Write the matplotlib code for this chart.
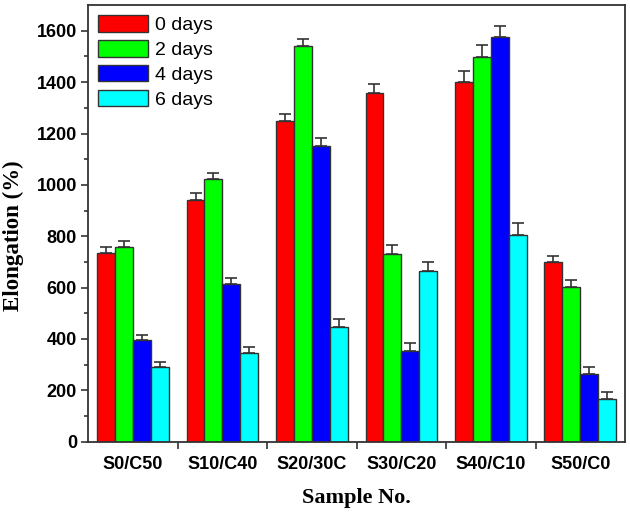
import matplotlib.pyplot as plt
import numpy as np

# Data
samples = ["S0/C50", "S10/C40", "S20/30C", "S30/C20", "S40/C10", "S50/C0"]
labels = ["0 days", "2 days", "4 days", "6 days"]
day0 = [736, 943, 1250, 1356, 1402, 698]
day2 = [758, 1024, 1542, 732, 1499, 601]
day4 = [395, 614, 1153, 352, 1574, 262]
day6 = [289, 345, 448, 666, 806, 165]
err0 = [24, 25, 27, 36, 43, 27]
err2 = [25, 23, 28, 34, 45, 29]
err4 = [22, 22, 30, 34, 44, 27]
err6 = [22, 24, 28, 34, 45, 27]

colors = ["#ff0000", "#00ff00", "#0000ff", "#00ffff"]
edge = "#333333"

fig = plt.figure(figsize=(6.3, 5.13), dpi=100)
ax = fig.add_axes([0.14, 0.139, 0.852, 0.851])

x = np.arange(1, len(samples) + 1)
w = 0.2
series = [day0, day2, day4, day6]
errs = [err0, err2, err4, err6]
for i, (vals, e) in enumerate(zip(series, errs)):
    pos = x + (i - 1.5) * w
    ax.bar(pos, vals, width=w, color=colors[i], edgecolor=edge, linewidth=1.0,
           label=labels[i], zorder=2)
    ax.errorbar(pos, vals, yerr=[np.zeros(len(e)), e], fmt="none", ecolor=edge,
                elinewidth=1.2, capsize=4, capthick=1.2, zorder=1)

ax.set_xlim(0.5, 6.5)
ax.set_ylim(0, 1700)
ax.set_yticks(np.arange(0, 1601, 200))
ax.set_yticks(np.arange(100, 1700, 200), minor=True)
ax.set_xticks(x)
ax.set_xticklabels(samples)
ax.set_xticks(np.arange(1.5, 6.5, 1), minor=True)
ax.tick_params(axis="x", which="major", length=0, pad=10)
ax.tick_params(axis="x", which="minor", length=5, width=1.2, color=edge)
ax.tick_params(axis="y", which="major", length=5, width=1.2, color=edge, pad=3)
ax.tick_params(axis="y", which="minor", length=3, width=1.2, color=edge)
for lab in ax.get_xticklabels() + ax.get_yticklabels():
    lab.set_fontfamily("Liberation Sans")
    lab.set_fontweight("bold")
    lab.set_fontsize(13)
for s in ax.spines.values():
    s.set_color(edge)
    s.set_linewidth(1.3)

ax.set_xlabel("Sample No.", fontfamily="Liberation Serif", fontweight="bold",
              fontsize=16, labelpad=11)
ax.set_ylabel("Elongation (%)", fontfamily="Liberation Serif", fontweight="bold",
              fontsize=16.5)
ax.yaxis.set_label_coords(-0.119, 0.473)

leg = ax.legend(loc="upper left", frameon=False, prop={"family": "Liberation Sans", "size": 14},
                handlelength=2.6, handleheight=0.95, labelspacing=0.3, handletextpad=0.35,
                borderaxespad=0.3, borderpad=0.2)

fig.savefig("out.png", dpi=100)
